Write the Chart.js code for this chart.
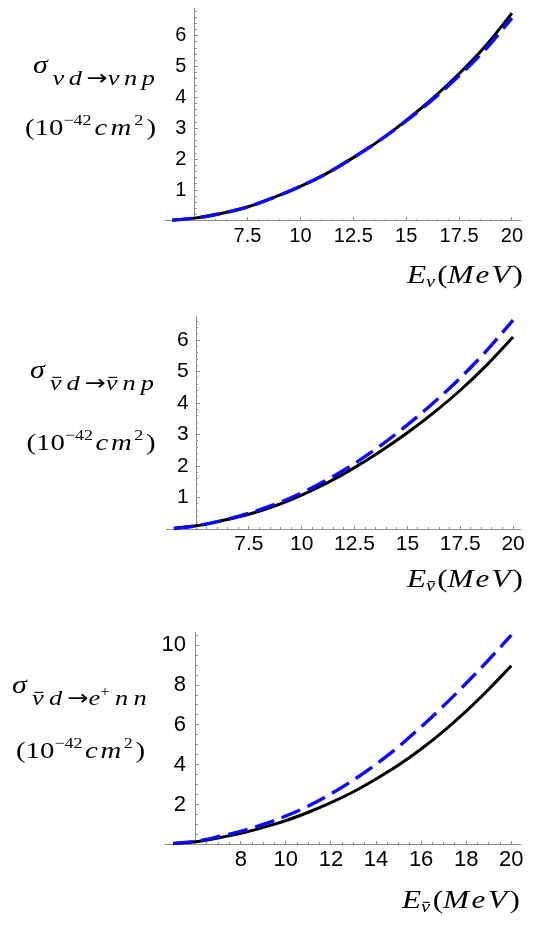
<!DOCTYPE html>
<html>
<head>
<meta charset="utf-8">
<script src="https://cdn.jsdelivr.net/npm/chart.js@4.4.0/dist/chart.umd.min.js"></script>
<style>
  html, body { margin: 0; padding: 0; background: #fff; }
  #wrap { position: relative; width: 554px; height: 929px; overflow: hidden; background: #fff; }
  canvas { position: absolute; left: 0; }
</style>
</head>
<body>
<div id="wrap">
  <canvas id="c1" width="554" height="300" style="top:0px"></canvas>
  <canvas id="c2" width="554" height="310" style="top:300px"></canvas>
  <canvas id="c3" width="554" height="319" style="top:610px"></canvas>
</div>
<script>
/* ========== DATA ========== */
// panel 1 : nu d -> nu n p
const energyNC = [3.95, 5, 6.25, 7.5, 8.75, 10, 11.25, 12.5, 13.75, 15, 16.25, 17.5, 18.75, 20];
const solidNu = [0.02, 0.09, 0.24, 0.45, 0.76, 1.12, 1.54, 2.05, 2.61, 3.26, 3.97, 4.77, 5.67, 6.73];
const dashedNu = [0.02, 0.09, 0.24, 0.45, 0.76, 1.12, 1.54, 2.05, 2.61, 3.24, 3.93, 4.70, 5.56, 6.57];

// panel 2 : nubar d -> nubar n p
const solidNuBar = [0.02, 0.10, 0.27, 0.47, 0.74, 1.08, 1.48, 1.95, 2.48, 3.06, 3.70, 4.41, 5.21, 6.10];
const dashedNuBar = [0.02, 0.10, 0.27, 0.50, 0.79, 1.15, 1.58, 2.08, 2.66, 3.31, 4.02, 4.80, 5.67, 6.64];

// panel 3 : nubar d -> e+ n n
const energyCC = [5, 6, 7, 8, 9, 10, 11, 12, 13, 14, 15, 16, 17, 18, 19, 20];
const solidCC = [0.03, 0.13, 0.32, 0.55, 0.85, 1.19, 1.61, 2.09, 2.64, 3.28, 3.98, 4.79, 5.69, 6.69, 7.79, 8.97];
const dashedCC = [0.04, 0.15, 0.38, 0.65, 1.00, 1.42, 1.92, 2.53, 3.23, 4.02, 4.90, 5.90, 6.96, 8.09, 9.27, 10.51];

// tick labels
const xTicksNC = [7.5, 10, 12.5, 15, 17.5, 20];
const yTicksNC = [1, 2, 3, 4, 5, 6];
const xTicksCC = [8, 10, 12, 14, 16, 18, 20];
const yTicksCC = [2, 4, 6, 8, 10];

/* ========== HELPERS ========== */
const AXIS_GRAY = "#8f8f8f";
const BLUE = "#0a0aff";

function steps(from, to, step) {
  const out = [];
  for (let v = from; v <= to + 1e-9; v += step) out.push(Math.round(v * 1000) / 1000);
  return out;
}

function fixedTicks(values) {
  return function (scale) {
    scale.ticks = values.map((v) => ({ value: v }));
  };
}

// axes sit inside the plot, so they must not push the chart area around
function noPadding(scale) {
  scale.paddingTop = 0;
  scale.paddingBottom = 0;
  scale.paddingLeft = 0;
  scale.paddingRight = 0;
}

function points(xs, ys) {
  return xs.map((x, i) => ({ x: x, y: ys[i] }));
}

function buildScales(p) {
  const tickFont = { family: "'Liberation Sans', Arial, sans-serif", size: p.fontSize };
  const grid = (len) => ({
    drawOnChartArea: false,
    drawTicks: true,
    tickLength: len,
    tickColor: AXIS_GRAY,
    tickWidth: 1,
  });
  return {
    x: {
      type: "linear",
      min: p.xMin,
      max: p.xMax,
      position: { y: 0 },
      afterBuildTicks: fixedTicks(p.xTicks),
      afterFit: noPadding,
      border: { display: true, color: AXIS_GRAY, width: 1 },
      grid: grid(-4),
      ticks: {
        autoSkip: false,
        maxRotation: 0,
        color: "#000",
        font: tickFont,
        padding: p.xPad,
        callback: (v) => String(v),
      },
    },
    xm: {
      type: "linear",
      min: p.xMin,
      max: p.xMax,
      position: { y: 0 },
      afterBuildTicks: fixedTicks(steps(p.originX, 20, 0.5)),
      afterFit: noPadding,
      border: { display: false },
      grid: grid(-2),
      ticks: { display: false, autoSkip: false },
    },
    // major y ticks + axis line
    y: {
      type: "linear",
      min: 0,
      max: p.yMax,
      position: { x: p.originX },
      afterBuildTicks: fixedTicks(p.yTicks),
      afterFit: noPadding,
      border: { display: true, color: AXIS_GRAY, width: 1 },
      grid: grid(-4),
      ticks: { display: false, autoSkip: false },
    },
    // minor y ticks
    ym: {
      type: "linear",
      min: 0,
      max: p.yMax,
      position: { x: p.originX },
      afterBuildTicks: fixedTicks(steps(0, p.yMax, p.yMinor)),
      afterFit: noPadding,
      border: { display: false },
      grid: grid(-2),
      ticks: { display: false, autoSkip: false },
    },
    // y tick labels, set a little left of the axis
    yl: {
      type: "linear",
      min: 0,
      max: p.yMax,
      position: { x: p.originX - p.yLabelGap },
      afterBuildTicks: fixedTicks(p.yTicks),
      afterFit: noPadding,
      border: { display: false },
      grid: { display: false },
      ticks: {
        autoSkip: false,
        color: "#000",
        font: tickFont,
        padding: 0,
        callback: (v) => String(v),
      },
    },
  };
}

/* ========== MATH LABELS ========== */
function fontFor(part) {
  const fam = part.fam || "'Liberation Serif', 'Times New Roman', serif";
  return (part.it ? "italic " : "") + part.size + "px " + fam;
}

// split the parts into glyphs, stretch a little and spread the rest,
// so each label covers the same width as in the reference
function drawMath(ctx, block) {
  const glyphs = [];
  block.parts.forEach((p) => {
    const chars = p.keep ? [p.t] : Array.from(p.t);
    chars.forEach((c) => glyphs.push(Object.assign({}, p, { t: c })));
  });
  ctx.save();
  let natural = 0;
  const widths = glyphs.map((g) => {
    ctx.font = fontFor(g);
    const w = ctx.measureText(g.t).width;
    natural += w;
    return w;
  });
  const target = block.right - block.left;
  const sx = Math.min(1.2, Math.max(0.94, target / natural));
  const gaps = glyphs.filter((g, i) => i < glyphs.length - 1 && !g.tight).length;
  const spread = Math.max(0, target / sx - natural) / Math.max(1, gaps);
  ctx.translate(block.left, block.base);
  ctx.scale(sx, 1);
  ctx.fillStyle = "#000";
  ctx.textAlign = "left";
  ctx.textBaseline = "alphabetic";
  let x = 0;
  glyphs.forEach((g, i) => {
    ctx.font = fontFor(g);
    const dy = g.dy || 0;
    ctx.fillText(g.t, x, dy);
    if (g.bar) {
      const w = widths[i];
      ctx.fillRect(x + w * 0.22, dy - g.size * 0.6, w * 0.75, 1.1);
    }
    x += widths[i] + (g.tight ? 0 : spread);
  });
  ctx.restore();
}

function mathPlugin(blocks) {
  return {
    id: "mathLabels",
    afterDraw(chart) {
      blocks.forEach((b) => drawMath(chart.ctx, b));
    },
  };
}

const ARROW = { t: "\u2192", size: 21, fam: "'DejaVu Sans', sans-serif", tight: true };

const unitParts = [
  { t: "(", size: 24, tight: true },
  { t: "10", size: 24, keep: true, tight: true },
  { t: "\u221242", size: 15, dy: -10, keep: true },
  { t: "cm", size: 24, it: true },
  { t: "2", size: 15, dy: -10 },
  { t: ")", size: 24 },
];

function energyParts(bar) {
  return [
    { t: "E", size: 26, it: true, tight: true },
    { t: "\u03bd", size: 17, it: true, dy: 4, bar: bar },
    { t: "(", size: 26, tight: true },
    { t: "MeV", size: 26, it: true },
    { t: ")", size: 26 },
  ];
}

/* ========== CHART FACTORY ========== */
function makePanel(canvasId, p) {
  const ctx = document.getElementById(canvasId).getContext("2d");
  return new Chart(ctx, {
    type: "line",
    data: {
      datasets: [
        {
          data: points(p.energy, p.dashed),
          borderColor: BLUE,
          borderWidth: 3.4,
          borderDash: [20, 8],
          pointRadius: 0,
          cubicInterpolationMode: "monotone",
          clip: false,
        },
        {
          data: points(p.energy, p.solid),
          borderColor: "#000",
          borderWidth: 3,
          pointRadius: 0,
          cubicInterpolationMode: "monotone",
          clip: false,
        },
      ],
    },
    options: {
      responsive: false,
      animation: false,
      events: [],
      layout: { padding: p.padding },
      scales: buildScales(p),
      plugins: {
        legend: { display: false },
        tooltip: { enabled: false },
      },
    },
    plugins: [mathPlugin(p.labels)],
  });
}

/* ========== PANEL 1 ========== */
makePanel("c1", {
  energy: energyNC,
  solid: solidNu,
  dashed: dashedNu,
  xMin: 3.6, xMax: 20.38, originX: 5,
  yMax: 6.89, yMinor: 0.2,
  xTicks: xTicksNC, yTicks: yTicksNC,
  fontSize: 20, xPad: 8, yLabelGap: 0.39,
  padding: { left: 165, right: 34, top: 8.3, bottom: 79.1 },
  labels: [
    {
      left: 33, right: 155, base: 85,
      parts: [
        { t: "\u03c3", size: 25, it: true, dy: -12 },
        { t: "\u03bdd", size: 22, it: true },
        ARROW,
        { t: "\u03bdnp", size: 22, it: true },
      ],
    },
    { left: 25, right: 156, base: 135, parts: unitParts },
    { left: 407, right: 523, base: 283, parts: energyParts(false) },
  ],
});

/* ========== PANEL 2 ========== */
makePanel("c2", {
  energy: energyNC,
  solid: solidNuBar,
  dashed: dashedNuBar,
  xMin: 3.58, xMax: 20.36, originX: 5,
  yMax: 6.77, yMinor: 0.2,
  xTicks: xTicksNC, yTicks: yTicksNC,
  fontSize: 21, xPad: 7, yLabelGap: 0.35,
  padding: { left: 166, right: 33.3, top: 16, bottom: 81 },
  labels: [
    {
      left: 30, right: 154, base: 90,
      parts: [
        { t: "\u03c3", size: 25, it: true, dy: -12 },
        { t: "\u03bd", size: 22, it: true, bar: true },
        { t: "d", size: 22, it: true },
        ARROW,
        { t: "\u03bd", size: 22, it: true, bar: true },
        { t: "np", size: 22, it: true },
      ],
    },
    { left: 26.5, right: 155.5, base: 150, parts: unitParts },
    { left: 407, right: 523, base: 287.3, parts: energyParts(true) },
  ],
});

/* ========== PANEL 3 ========== */
makePanel("c3", {
  energy: energyCC,
  solid: solidCC,
  dashed: dashedCC,
  xMin: 4.64, xMax: 20.386, originX: 6,
  yMax: 10.63, yMinor: 0.5,
  xTicks: xTicksCC, yTicks: yTicksCC,
  fontSize: 22, xPad: 6, yLabelGap: 0.43,
  padding: { left: 165, right: 34, top: 22.7, bottom: 84.7 },
  labels: [
    {
      left: 12, right: 146.6, base: 95,
      parts: [
        { t: "\u03c3", size: 25, it: true, dy: -12 },
        { t: "\u03bd", size: 22, it: true, bar: true },
        { t: "d", size: 22, it: true },
        ARROW,
        { t: "e", size: 22, it: true, tight: true },
        { t: "+", size: 14, dy: -9 },
        { t: "nn", size: 22, it: true },
      ],
    },
    { left: 16, right: 145, base: 148, parts: unitParts },
    { left: 402, right: 520, base: 298, parts: energyParts(true) },
  ],
});
</script>
</body>
</html>
